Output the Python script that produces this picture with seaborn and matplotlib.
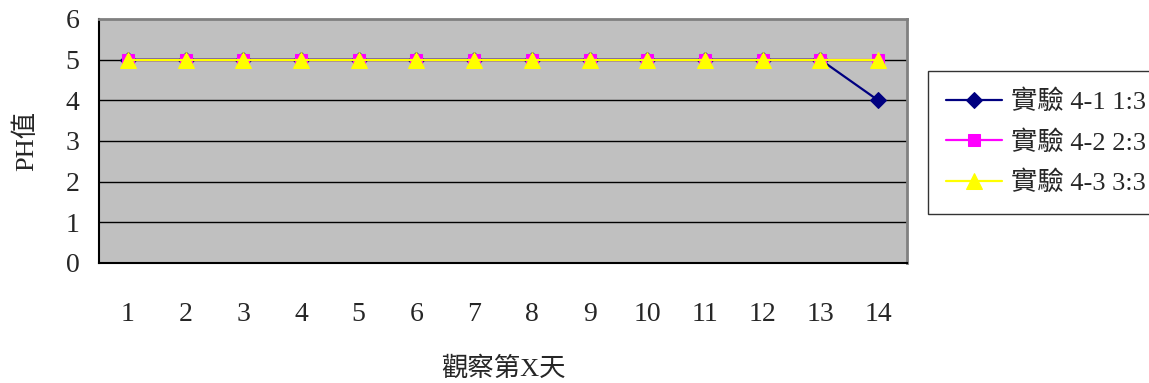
import numpy as np
import pandas as pd
import matplotlib
matplotlib.use("Agg")
import matplotlib.pyplot as plt
import seaborn as sns

# data
days = ["1", "2", "3", "4", "5", "6", "7", "8", "9", "10", "11", "12", "13", "14"]
ph_41 = [5, 5, 5, 5, 5, 5, 5, 5, 5, 5, 5, 5, 5, 4]
ph_42 = [5, 5, 5, 5, 5, 5, 5, 5, 5, 5, 5, 5, 5, 5]
ph_43 = [5, 5, 5, 5, 5, 5, 5, 5, 5, 5, 5, 5, 5, 5]
series_names = ["實驗 4-1 1:3", "實驗 4-2 2:3", "實驗 4-3 3:3"]
colors = ["#000080", "#FF00FF", "#FFFF00"]
markers = ["D", "s", "^"]
msizes = [8, 9, 11]

sns.set_style("white")
plt.rcParams["font.family"] = ["Liberation Serif", "Noto Sans CJK TC", "DejaVu Sans"]

fig = plt.figure(figsize=(11.49, 3.83), dpi=100)
ax = fig.add_axes([99 / 1149, 1 - 263 / 383, 808 / 1149, 244 / 383])
ax.set_facecolor("#C0C0C0")

pos = np.arange(len(days))
for vals, name, c, m, ms in zip([ph_41, ph_42, ph_43], series_names, colors, markers, msizes):
    df = pd.DataFrame({"x": pos, "y": vals})
    sns.lineplot(data=df, x="x", y="y", ax=ax, color=c, marker=m, markersize=ms,
                 markeredgecolor=c, linewidth=1.6, label=name)

ax.set_xlim(-0.5, len(days) - 0.5)
ax.set_ylim(0, 6)
ax.set_yticks(range(0, 7))
for yv in range(1, 6):
    ax.axhline(yv, color="black", linewidth=1, zorder=0.5)

ax.set_xticks(pos)
ax.set_xticklabels(days)
ax.set_xticks(np.arange(-0.5, len(days) + 0.5, 1), minor=True)
ax.tick_params(axis="x", which="major", length=0, pad=28, labelsize=20)
ax.tick_params(axis="x", which="minor", direction="in", length=7, width=1, color="black")
ax.tick_params(axis="y", direction="in", length=7, width=1, color="black", pad=14, labelsize=20)

for s in ["left", "bottom"]:
    ax.spines[s].set_color("black")
    ax.spines[s].set_linewidth(1.5)
for s in ["top", "right"]:
    ax.spines[s].set_color("#808080")
    ax.spines[s].set_linewidth(2)

ax.set_xlabel("觀察第X天", fontsize=19, labelpad=21)
ax.set_ylabel("PH值", fontsize=19, labelpad=20)

leg = ax.legend(loc="upper left", bbox_to_anchor=((928 - 99) / 808, 1 - (71 - 19) / 244),
                frameon=True, fancybox=False, fontsize=19, handlelength=2.1,
                borderpad=0.7, labelspacing=0.6, handletextpad=0.35, borderaxespad=0)
leg.get_frame().set_edgecolor("black")
leg.get_frame().set_linewidth(1)
leg.get_frame().set_facecolor("white")

fig.savefig("out.png", dpi=100)
